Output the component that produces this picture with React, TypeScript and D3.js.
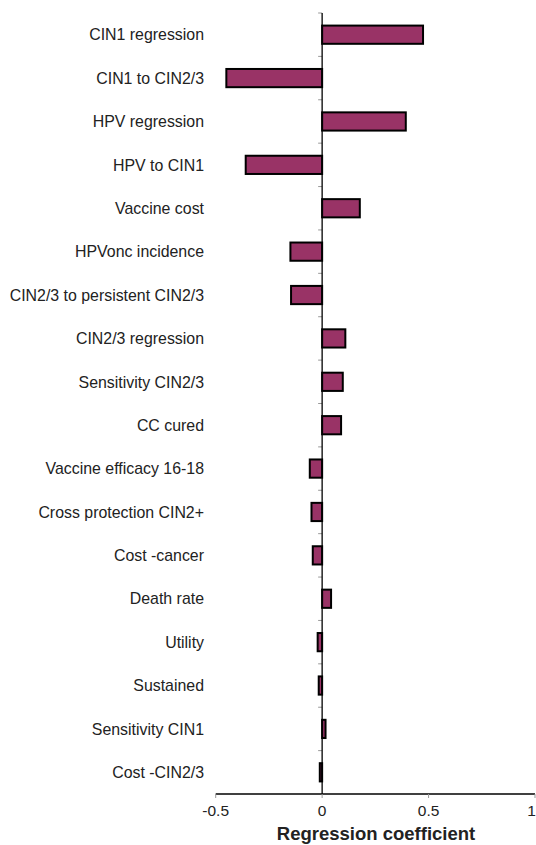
import React from "react";
import * as d3 from "d3";

const categories = [
  "CIN1 regression",
  "CIN1 to CIN2/3",
  "HPV regression",
  "HPV to CIN1",
  "Vaccine cost",
  "HPVonc incidence",
  "CIN2/3 to persistent CIN2/3",
  "CIN2/3 regression",
  "Sensitivity CIN2/3",
  "CC cured",
  "Vaccine efficacy 16-18",
  "Cross protection CIN2+",
  "Cost -cancer",
  "Death rate",
  "Utility",
  "Sustained",
  "Sensitivity CIN1",
  "Cost -CIN2/3",
];

const coefficients = [
  0.474, -0.45, 0.393, -0.359, 0.177, -0.149, -0.146, 0.109, 0.097, 0.089,
  -0.058, -0.05, -0.044, 0.042, -0.021, -0.016, 0.016, -0.011,
];

const xTicks = [-0.5, 0, 0.5, 1];
const xTickLabels = ["-0.5", "0", "0.5", "1"];
const axisTitle = "Regression coefficient";

const W = 536;
const H = 845;
const FONT = "'Liberation Sans', Arial, Helvetica, sans-serif";

export default function App() {
  const x = d3.scaleLinear().domain([-0.5, 1]).range([215.7, 535]);
  const y = d3.scaleBand<string>().domain(categories).range([13, 794]);
  const step = y.step();
  const barH = step * 0.42;
  const x0 = x(0);
  const axisY = 794;

  return (
    <svg
      width={W}
      height={H}
      style={{ position: "absolute", left: 0, top: 0, background: "#fff" }}
      fontFamily={FONT}
    >
      {/* category ticks */}
      {categories.map((c, i) => (
        <line
          key={"t" + i}
          x1={x0 - 4}
          x2={x0}
          y1={13 + i * step}
          y2={13 + i * step}
          stroke="#999"
          strokeWidth={1}
        />
      ))}

      {/* bars */}
      {categories.map((c, i) => {
        const v = coefficients[i];
        const cy = (y(c) as number) + step / 2;
        const left = Math.min(x(v), x0);
        const w = Math.abs(x(v) - x0);
        return (
          <rect
            key={c}
            x={left}
            y={cy - barH / 2}
            width={w}
            height={barH}
            fill="#993366"
            stroke="#000"
            strokeWidth={2}
          />
        );
      })}

      {/* vertical zero axis */}
      <line x1={x0} x2={x0} y1={13} y2={axisY} stroke="#000" strokeWidth={1.3} />

      {/* category labels */}
      {categories.map((c) => (
        <text
          key={"l" + c}
          x={204}
          y={(y(c) as number) + step / 2 + 5.7}
          textAnchor="end"
          fontSize={15.9}
          fill="#222"
        >
          {c}
        </text>
      ))}

      {/* x axis */}
      <line x1={x(-0.5)} x2={x(1)} y1={axisY} y2={axisY} stroke="#000" strokeWidth={1.3} />
      {xTicks.map((t, i) => (
        <g key={"x" + i}>
          <line x1={x(t)} x2={x(t)} y1={axisY} y2={axisY + 4} stroke="#999" strokeWidth={1} />
          <text
            x={Math.min(x(t), W - 4.5)}
            y={816}
            textAnchor="middle"
            fontSize={15.5}
            fill="#222"
          >
            {xTickLabels[i]}
          </text>
        </g>
      ))}

      <text
        x={376}
        y={840}
        textAnchor="middle"
        fontSize={18.5}
        fontWeight="bold"
        fill="#222"
      >
        {axisTitle}
      </text>
    </svg>
  );
}
